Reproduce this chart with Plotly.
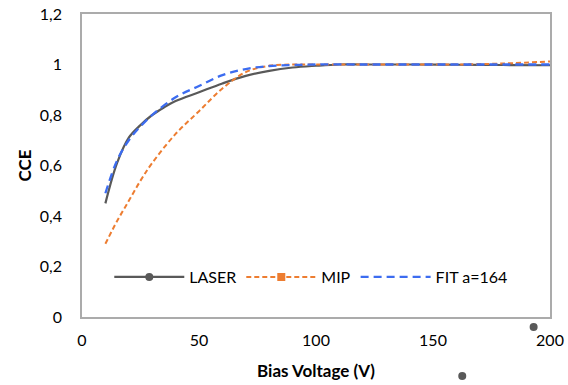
import plotly.graph_objects as go

# ---- data ----
laser_v = [10, 15, 20, 25, 30, 35, 40, 50, 60, 70, 80, 90, 100, 110, 120, 140, 160, 180, 200]
laser_cce = [0.45, 0.61, 0.71, 0.76, 0.80, 0.83, 0.855, 0.89, 0.925, 0.955, 0.975, 0.988, 0.995, 1.0, 1.0, 1.0, 0.999, 0.998, 0.997]

mip_v = [10, 15, 20, 25, 30, 40, 50, 60, 70, 80, 90, 100, 120, 140, 160, 180, 200]
mip_cce = [0.29, 0.38, 0.46, 0.54, 0.61, 0.725, 0.815, 0.905, 0.97, 0.995, 1.0, 1.0, 1.0, 1.0, 1.0, 1.004, 1.012]

fit_v = [10, 15, 20, 25, 30, 40, 50, 60, 70, 80, 90, 100, 120, 140, 160, 180, 200]
fit_cce = [0.49, 0.62, 0.70, 0.755, 0.80, 0.87, 0.915, 0.958, 0.982, 0.994, 0.998, 1.0, 1.0, 1.0, 1.0, 1.0, 1.0]

# two stray LASER-style markers lying outside the plot area
stray_v = [193, 162.5]
stray_cce = [-0.04, -0.234]

y_ticks = [0, 0.2, 0.4, 0.6, 0.8, 1.0, 1.2]
y_ticktext = ["0", "0,2", "0,4", "0,6", "0,8", "1", "1,2"]
x_ticks = [0, 50, 100, 150, 200]

X_RANGE = [0, 200]
Y_RANGE = [0, 1.2]

GREY = "#595959"
ORANGE = "#ED7D31"
BLUE = "#3C6CF0"
FONT = "Lato"

W, H = 568, 385
X_DOM = [82 / W, 550 / W]
Y_DOM = [68 / H, 371 / H]


def full_range(rng, dom):
    span = (rng[1] - rng[0]) / (dom[1] - dom[0])
    lo = rng[0] - dom[0] * span
    return [lo, lo + span]


fig = go.Figure()
fig.add_trace(go.Scatter(x=laser_v, y=laser_cce, mode="lines", line=dict(color=GREY, width=2.2),
                         line_shape="spline", showlegend=False))
fig.add_trace(go.Scatter(x=mip_v, y=mip_cce, mode="lines", line=dict(color=ORANGE, width=2, dash="5px,3px"),
                         line_shape="spline", showlegend=False))
fig.add_trace(go.Scatter(x=fit_v, y=fit_cce, mode="lines", line=dict(color=BLUE, width=2.3, dash="8px,5px"),
                         line_shape="spline", showlegend=False))
# legend entries
fig.add_trace(go.Scatter(x=[None], y=[None], mode="lines+markers", name="LASER",
                         line=dict(color=GREY, width=2.2), marker=dict(symbol="circle", size=8, color=GREY)))
fig.add_trace(go.Scatter(x=[None], y=[None], mode="lines+markers", name="MIP",
                         line=dict(color=ORANGE, width=2, dash="5px,3px"),
                         marker=dict(symbol="square", size=8, color=ORANGE)))
fig.add_trace(go.Scatter(x=[None], y=[None], mode="lines", name="FIT a=164",
                         line=dict(color=BLUE, width=2.3, dash="8px,5px")))
# stray markers on a full-figure axis pair sharing the same scale
fig.add_trace(go.Scatter(x=stray_v, y=stray_cce, mode="markers", marker=dict(color=GREY, size=8),
                         xaxis="x2", yaxis="y2", showlegend=False, hoverinfo="skip"))

axis_common = dict(showline=True, linecolor="#ABABAB", linewidth=1.5, mirror=True, showgrid=False,
                   zeroline=False, ticks="", automargin=False,
                   tickfont=dict(family=FONT, size=16, color="#000000"))

fig.update_layout(
    width=W, height=H,
    margin=dict(l=0, r=0, t=0, b=0),
    paper_bgcolor="white", plot_bgcolor="rgba(0,0,0,0)",
    font=dict(family=FONT, color="#000000"),
    xaxis=dict(range=X_RANGE, domain=X_DOM, tickvals=x_ticks, ticklabelstandoff=8,
               title=dict(text="<b>Bias Voltage (V)</b>", font=dict(family=FONT, size=17), standoff=17),
               **axis_common),
    yaxis=dict(range=Y_RANGE, domain=Y_DOM, tickvals=y_ticks, ticktext=y_ticktext, ticklabelstandoff=15,
               title=dict(text="<b>CCE</b>", font=dict(family=FONT, size=17), standoff=4),
               **axis_common),
    xaxis2=dict(range=full_range(X_RANGE, X_DOM), domain=[0, 1], anchor="y2",
                visible=False, automargin=False),
    yaxis2=dict(range=full_range(Y_RANGE, Y_DOM), domain=[0, 1], anchor="x2",
                visible=False, automargin=False),
    legend=dict(orientation="h", x=0.1924, y=1 - 277 / H, xanchor="left", yanchor="middle",
                font=dict(family=FONT, size=16), bgcolor="rgba(0,0,0,0)", itemwidth=70,
                tracegroupgap=0),
)

fig.write_html("out.html")
